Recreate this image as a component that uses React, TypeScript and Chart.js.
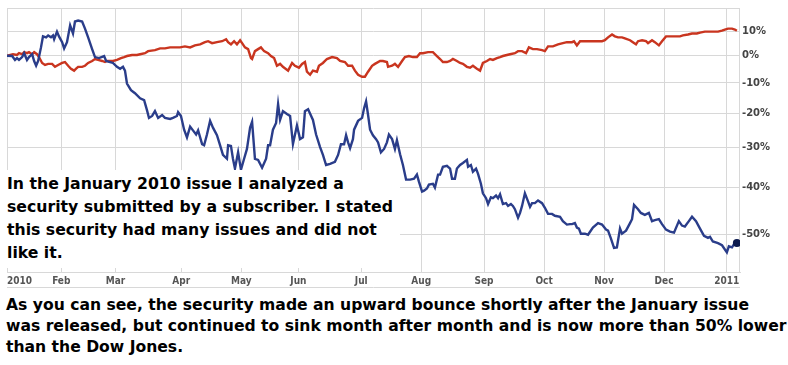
import React, { useEffect, useRef } from 'react';
import { Chart, registerables } from 'chart.js';

Chart.register(...registerables);

// Trading-day index (0 = first trading day of 2010) at which each month starts
const monthTickDays = [0, 4.4, 19, 38, 61, 82, 102, 124, 145, 167, 188, 209, 230, 252];
const monthTickLabels = ['', '2010', 'Feb', 'Mar', 'Apr', 'May', 'Jun', 'Jul', 'Aug', 'Sep', 'Oct', 'Nov', 'Dec', '2011'];

// Percent change tick labels (log-scaled axis)
const pctTicks = [10, 0, -10, -20, -30, -40, -50];

// Security (blue) — trading day and % change since start
const secDays = [0, 1.8, 2.8, 3.5, 4.2, 5.3, 6.0, 7.0, 7.7, 8.8, 9.5, 10.2, 10.9, 11.9, 12.6, 13.7, 14.4, 15.4, 16.1, 16.5, 17.5, 18.2, 19.3, 20.0, 21.0, 22.1, 23.1, 23.8, 24.9, 26.3, 27.3, 28.4, 29.8, 30.8, 32.2, 34.0, 34.7, 36.1, 37.1, 38.5, 39.6, 40.6, 41.3, 42.0, 43.4, 44.8, 46.6, 48.0, 49.0, 49.7, 50.8, 51.8, 52.9, 54.3, 55.3, 57.1, 58.1, 59.5, 59.9, 60.9, 62.0, 63.0, 64.1, 65.1, 66.2, 66.9, 68.3, 69.0, 70.0, 71.1, 72.1, 73.5, 74.6, 75.6, 77.0, 77.4, 78.4, 79.1, 79.8, 80.9, 81.9, 83.0, 84.0, 85.1, 85.8, 86.8, 87.9, 89.3, 90.7, 91.4, 92.1, 93.1, 94.2, 94.9, 95.6, 96.6, 98.0, 99.1, 100.1, 101.5, 102.6, 103.6, 104.3, 105.4, 107.1, 108.2, 109.6, 110.6, 111.7, 113.1, 114.8, 115.9, 116.9, 118.0, 118.7, 119.4, 120.1, 121.1, 121.5, 122.9, 124.3, 125.0, 125.7, 126.4, 127.1, 128.1, 129.2, 129.9, 130.9, 132.0, 133.0, 133.7, 134.8, 135.8, 136.5, 137.6, 138.6, 139.7, 141.1, 142.5, 143.5, 144.2, 145.3, 146.0, 147.0, 147.7, 149.1, 149.8, 150.9, 151.6, 152.6, 154.0, 155.1, 155.8, 156.8, 157.5, 158.6, 159.6, 161.0, 161.4, 162.4, 163.1, 164.2, 164.9, 165.9, 166.6, 167.7, 168.4, 169.4, 170.1, 171.2, 171.9, 172.6, 173.6, 174.7, 175.4, 176.4, 177.1, 177.8, 178.9, 179.6, 180.3, 181.3, 182.4, 183.1, 183.8, 184.8, 185.9, 187.3, 188.3, 189.4, 190.8, 191.8, 193.6, 194.6, 196.0, 197.1, 197.8, 198.8, 199.5, 200.2, 200.9, 202.3, 203.4, 205.1, 206.9, 208.3, 209.7, 210.4, 211.4, 212.5, 213.5, 214.6, 215.3, 216.7, 218.1, 218.8, 219.5, 220.9, 221.9, 223.3, 224.7, 225.8, 226.8, 228.2, 229.3, 230.7, 232.1, 233.5, 235.2, 236.3, 237.3, 238.7, 239.8, 241.2, 242.6, 244.0, 245.4, 246.1, 247.1, 248.9, 250.3, 252.0, 252.7, 253.8, 254.5, 255.5];
const secPct = [0, -0.1, -1.6, -0.9, -1.6, -0.5, 1.0, -1.6, -0.5, 0.6, -2.0, -3.8, -2.0, 3.3, 7.8, 7.4, 8.2, 7.4, 8.2, 6.6, 9.8, 7.8, 5.4, 2.9, 5.4, 12.5, 9.0, 14.2, 14.6, 14.2, 11.1, 7.4, 2.6, -0.5, -0.9, -0.1, -2.0, -2.4, -2.75, -4.2, -4.9, -4.2, -5.6, -10.2, -12.5, -13.5, -15.2, -15.8, -19.0, -21.4, -20.8, -19.3, -21.4, -20.5, -21.4, -21.7, -21.4, -20.8, -19.6, -20.8, -24.9, -27.1, -24.0, -25.1, -26.3, -25.1, -29.0, -29.3, -26.3, -22.3, -24.3, -26.5, -29.3, -31.9, -32.9, -29.3, -29.5, -32.9, -35.4, -31.2, -35.7, -32.9, -30.3, -24.3, -22.6, -32.9, -33.2, -35.2, -32.9, -29.3, -29.3, -24.9, -22.9, -17.1, -22.0, -19.3, -20.2, -20.8, -29.0, -23.7, -27.6, -27.1, -19.3, -18.7, -22.0, -26.3, -29.8, -31.9, -34.5, -34.2, -33.7, -31.9, -29.0, -29.0, -26.5, -28.5, -30.1, -27.6, -24.9, -22.3, -21.4, -18.4, -16.2, -20.5, -24.9, -26.5, -27.6, -28.5, -31.2, -30.3, -28.5, -26.3, -27.6, -30.3, -27.9, -31.7, -34.5, -38.1, -38.1, -37.9, -36.9, -38.6, -40.9, -40.7, -40.2, -39.3, -39.1, -40.0, -36.9, -36.9, -34.95, -34.7, -35.4, -37.9, -37.9, -35.4, -34.5, -34.0, -33.2, -34.95, -34.5, -36.2, -35.4, -36.7, -39.1, -41.3, -42.4, -43.7, -42.2, -42.4, -41.8, -42.4, -41.5, -43.7, -43.5, -44.1, -43.7, -44.1, -44.8, -46.6, -45.6, -44.1, -41.3, -43.1, -44.3, -43.5, -43.5, -42.9, -43.5, -44.5, -45.8, -45.8, -46.2, -46.4, -47.3, -48.0, -47.9, -47.9, -47.7, -48.6, -48.8, -49.8, -49.8, -50.0, -48.6, -47.7, -48.0, -49.0, -49.2, -50.7, -52.5, -52.4, -48.8, -49.8, -49.2, -47.7, -46.9, -43.9, -44.8, -45.6, -46.0, -45.6, -47.3, -47.1, -46.9, -47.9, -49.0, -49.4, -49.6, -47.3, -48.2, -48.4, -47.3, -46.4, -47.3, -48.8, -50.2, -50.6, -50.4, -51.3, -51.6, -52.0, -53.3, -52.2, -52.4, -51.8, -51.6];

// Dow Jones (red) — trading day and % change since start
const dowDays = [0, 2.1, 3.5, 4.2, 5.3, 6.0, 7.0, 7.7, 8.8, 9.5, 10.5, 11.2, 12.3, 13.3, 14.4, 15.8, 16.8, 17.9, 19.3, 20.3, 21.4, 22.4, 23.5, 24.2, 24.9, 26.3, 27.3, 28.4, 29.8, 30.8, 31.9, 33.3, 34.3, 35.0, 36.1, 37.1, 38.5, 39.9, 41.0, 42.0, 43.8, 45.5, 46.6, 48.3, 49.4, 51.8, 53.6, 55.3, 57.1, 58.8, 60.6, 62.3, 64.1, 65.8, 67.6, 69.3, 70.4, 71.8, 73.5, 75.3, 76.7, 77.4, 78.4, 79.5, 80.5, 81.6, 82.3, 83.3, 84.4, 85.4, 85.8, 86.8, 87.9, 88.9, 90.0, 91.4, 92.4, 93.5, 94.5, 95.6, 96.6, 98.4, 99.8, 100.8, 102.2, 103.3, 104.3, 105.0, 106.1, 107.1, 108.5, 109.2, 110.6, 112.0, 113.8, 115.5, 116.6, 118.3, 119.4, 120.8, 121.8, 122.9, 124.3, 125.3, 126.4, 127.8, 128.8, 130.6, 131.6, 133.0, 133.4, 134.8, 135.8, 136.9, 138.3, 139.3, 140.7, 142.1, 143.5, 144.6, 145.6, 147.4, 149.1, 150.5, 151.6, 152.6, 154.0, 155.1, 156.1, 157.5, 158.6, 159.6, 161.0, 162.1, 163.1, 164.5, 165.6, 166.6, 168.0, 169.1, 170.1, 171.5, 172.6, 173.6, 175.0, 176.1, 177.8, 178.9, 180.3, 181.7, 182.7, 184.1, 185.5, 187.3, 188.3, 189.4, 191.1, 192.9, 194.6, 196.0, 197.8, 198.5, 199.5, 200.6, 202.3, 204.1, 205.8, 208.3, 209.3, 210.4, 211.8, 212.8, 213.9, 215.3, 216.3, 218.1, 219.1, 220.2, 220.9, 222.3, 223.7, 224.4, 225.8, 226.8, 228.2, 229.3, 230.7, 232.1, 233.8, 235.6, 236.6, 238.4, 239.8, 241.5, 242.6, 244.3, 246.1, 247.8, 248.9, 250.3, 251.3, 252.4, 253.8, 254.8, 255.5];
const dowPct = [0, 0.6, 0.3, 1.0, 0.6, 1.4, 1.0, 1.4, 0.6, 1.4, 0.6, -0.5, -2.75, -3.5, -3.1, -3.1, -4.2, -3.5, -2.75, -2.4, -3.8, -4.9, -5.6, -4.9, -4.2, -4.2, -3.8, -2.75, -2.0, -1.25, -1.6, -2.0, -2.4, -2.0, -2.0, -2.0, -1.6, -0.9, -0.5, -0.1, 0.3, 0.3, 0.6, 1.0, 1.8, 2.2, 2.9, 2.9, 3.3, 3.3, 3.3, 3.7, 3.3, 4.1, 4.5, 5.4, 5.8, 5.0, 5.4, 5.8, 6.6, 5.4, 4.5, 5.8, 4.5, 6.2, 5.0, 3.3, 2.6, -0.9, -1.25, 1.8, 2.6, 3.3, 1.8, 1.0, -0.1, -0.9, -3.8, -3.1, -4.2, -5.6, -2.75, -3.8, -4.5, -3.1, -2.4, -6.0, -7.1, -5.6, -6.0, -3.8, -2.75, -1.25, -0.5, -0.9, -2.0, -2.4, -3.8, -3.8, -5.6, -7.1, -7.8, -7.8, -6.0, -3.8, -3.1, -2.0, -2.0, -2.4, -4.2, -3.8, -3.1, -4.2, -2.0, -0.5, -0.1, -0.5, -0.5, 1.0, 1.0, 1.4, 1.4, -0.1, -1.25, -2.4, -2.4, -2.0, -1.25, -2.0, -2.75, -3.1, -4.2, -4.5, -3.8, -4.9, -5.6, -2.75, -2.0, -1.25, -1.6, -0.9, -0.5, -0.1, 0.3, 0.6, 1.0, 1.8, 1.8, 1.0, 3.3, 2.6, 2.6, 2.2, 1.8, 3.7, 3.7, 4.5, 5.0, 5.4, 5.4, 5.8, 4.1, 5.8, 5.8, 5.8, 5.8, 5.8, 6.2, 7.4, 8.6, 7.8, 7.4, 7.4, 7.0, 6.2, 5.4, 4.5, 5.8, 6.2, 5.8, 5.0, 6.2, 5.4, 4.1, 5.8, 7.8, 7.8, 7.8, 7.8, 8.2, 8.6, 9.0, 9.0, 9.4, 9.8, 9.8, 9.8, 9.8, 10.2, 10.7, 11.1, 11.1, 10.7, 10.2];

const GRID = '#d8d8d8';
const BLUE = '#2a3d8a';
const RED = '#c9351f';

const toLog = (p: number) => Math.log(1 + p / 100);

const framePlugin = {
  id: 'frame',
  beforeDatasetsDraw(chart: any) {
    const { ctx, chartArea: a } = chart;
    ctx.save();
    ctx.strokeStyle = GRID;
    ctx.lineWidth = 1;
    ctx.beginPath();
    ctx.moveTo(a.left, a.top + 0.5);
    ctx.lineTo(a.right, a.top + 0.5);
    ctx.moveTo(a.right - 0.5, a.top);
    ctx.lineTo(a.right - 0.5, a.bottom);
    ctx.moveTo(a.left, a.bottom + 15.5);
    ctx.lineTo(a.right, a.bottom + 15.5);
    ctx.stroke();
    ctx.restore();
  },
};

function ChartCanvas() {
  const ref = useRef<HTMLCanvasElement | null>(null);
  useEffect(() => {
    if (!ref.current) return;
    const secPoints = secDays.map((d, i) => ({ x: d, y: toLog(secPct[i]) }));
    const dowPoints = dowDays.map((d, i) => ({ x: d, y: toLog(dowPct[i]) }));
    const chart = new Chart(ref.current, {
      type: 'line',
      data: {
        datasets: [
          {
            label: 'Security',
            data: secPoints,
            borderColor: BLUE,
            borderWidth: 2.4,
            tension: 0,
            pointRadius: (c: any) => (c.dataIndex === secDays.length - 1 ? 4 : 0),
            pointBackgroundColor: '#0c1a4e',
            pointBorderWidth: 0,
            pointHoverRadius: 0,
          },
          {
            label: 'Dow Jones',
            data: dowPoints,
            borderColor: RED,
            borderWidth: 2.4,
            tension: 0,
            pointRadius: 0,
            pointHoverRadius: 0,
          },
        ],
      },
      options: {
        animation: false,
        responsive: false,
        maintainAspectRatio: false,
        devicePixelRatio: 1,
        layout: { padding: { left: 7, top: 3, right: 0, bottom: 0 } },
        plugins: { legend: { display: false }, tooltip: { enabled: false } },
        scales: {
          x: {
            type: 'linear',
            min: 0,
            max: 256.6,
            afterBuildTicks: (s: any) => {
              s.ticks = monthTickDays.map((v) => ({ value: v }));
            },
            afterFit: (s: any) => {
              s.height = 18;
            },
            grid: {
              color: (c: any) => (c.tick && c.tick.value === 4.4 ? 'rgba(0,0,0,0)' : GRID),
              drawTicks: false,
            },
            border: { color: GRID },
            ticks: {
              autoSkip: false,
              maxRotation: 0,
              padding: 3,
              color: '#555',
              font: { family: '"DejaVu Sans Condensed", "DejaVu Sans"', size: 10, weight: 'bold' },
              callback: (_v: any, i: number) => monthTickLabels[i],
            },
          },
          y: {
            type: 'linear',
            position: 'right',
            min: -0.8376,
            max: 0.185,
            afterBuildTicks: (s: any) => {
              s.ticks = pctTicks.map((p) => ({ value: toLog(p) }));
            },
            afterFit: (s: any) => {
              s.width = 48;
            },
            grid: { color: GRID, drawTicks: false },
            border: { display: false },
            ticks: {
              padding: 2,
              color: '#444',
              font: { family: '"DejaVu Sans"', size: 10, weight: 'bold' },
              callback: (_v: any, i: number) => `${pctTicks[i]}%`,
            },
          },
        },
      },
      plugins: [framePlugin],
    } as any);
    return () => chart.destroy();
  }, []);
  return <canvas ref={ref} width={788} height={290} style={{ position: 'absolute', left: 0, top: 0, width: 788, height: 290 }} />;
}

const textFont = '"DejaVu Sans", Verdana, sans-serif';

export default function App() {
  return (
    <div style={{ position: 'absolute', left: 0, top: 0, width: 788, height: 365, background: '#fff', overflow: 'hidden' }}>
      <ChartCanvas />
      <div
        style={{
          position: 'absolute',
          left: 0,
          top: 170,
          width: 400,
          height: 98,
          background: '#fff',
          paddingLeft: 7,
          paddingTop: 3.3,
          boxSizing: 'border-box',
          fontFamily: textFont,
          fontWeight: 'bold',
          fontSize: 15.7,
          lineHeight: '22.8px',
          color: '#000',
          whiteSpace: 'nowrap',
        }}
      >
        In the January 2010 issue I analyzed a<br />
        security submitted by a subscriber. I stated<br />
        this security had many issues and did not<br />
        like it.
      </div>
      <div
        style={{
          position: 'absolute',
          left: 6,
          top: 294.5,
          fontFamily: textFont,
          fontWeight: 'bold',
          fontSize: 15.6,
          lineHeight: '21.3px',
          color: '#000',
          whiteSpace: 'nowrap',
        }}
      >
        As you can see, the security made an upward bounce shortly after the January issue<br />
        was released, but continued to sink month after month and is now more than 50% lower<br />
        than the Dow Jones.
      </div>
    </div>
  );
}
